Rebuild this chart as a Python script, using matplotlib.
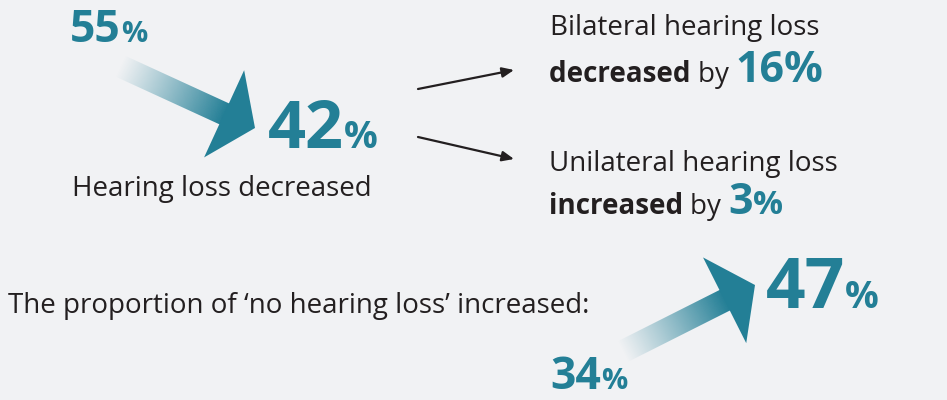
import numpy as np
import matplotlib
matplotlib.use('Agg')
import matplotlib.pyplot as plt
from matplotlib.patches import Polygon

plt.rcParams['font.family'] = ['Open Sans', 'DejaVu Sans']

# data: share of children (%)
hl_before, hl_after = 55, 42          # hearing loss
nohl_before, nohl_after = 34, 47      # no hearing loss
bilateral_change = 16                 # decreased by
unilateral_change = 3                 # increased by

bg, teal, ink = '#F1F2F4', '#237F96', '#231F20'

fig = plt.figure(figsize=(9.47, 4.0), dpi=100, facecolor=bg)
ax = fig.add_axes([0, 0, 1, 1])
ax.set_facecolor(bg)
ax.set_xlim(0, 947); ax.set_ylim(400, 0); ax.axis('off')
r = fig.canvas.get_renderer()


def line(x, y, parts):
    # parts: (text, size, weight, color), all on one baseline
    for s, size, weight, color in parts:
        t = ax.text(x, y, s, fontsize=size, fontweight=weight, color=color, va='baseline', ha='left')
        bb = t.get_window_extent(renderer=r)
        x = ax.transData.inverted().transform((bb.x1, bb.y0))[0]


def fade_arrow(tail, tip, shaft_w=23, head_len=34, head_w=96):
    tail, tip = np.array(tail, float), np.array(tip, float)
    d = tip - tail; L = np.hypot(*d); u = d / L; n = np.array([-u[1], u[0]])
    base = tip - u * head_len
    end = base + u * 6
    shaft = np.array([tail + n * shaft_w / 2, end + n * shaft_w / 2, end - n * shaft_w / 2, tail - n * shaft_w / 2])
    x0, y0 = shaft.min(0) - 2; x1, y1 = shaft.max(0) + 2
    xs, ys = np.meshgrid(np.linspace(x0, x1, 300), np.linspace(y0, y1, 300))
    proj = ((xs - tail[0]) * u[0] + (ys - tail[1]) * u[1]) / (L - head_len)
    img = np.zeros(xs.shape + (4,))
    img[..., :3] = matplotlib.colors.to_rgb(teal)
    img[..., 3] = np.clip(proj, 0, 1) ** 1.1
    im = ax.imshow(img, extent=(x0, x1, y1, y0), origin='upper', aspect='auto', interpolation='bilinear', zorder=2)
    clip = Polygon(shaft, closed=True, transform=ax.transData)
    im.set_clip_path(clip)
    head = Polygon([base + n * head_w / 2, tip, base - n * head_w / 2], closed=True, color=teal, lw=0, zorder=3)
    ax.add_patch(head)


# hearing loss: down arrow
fade_arrow((120, 66), (255, 128))
line(70, 42, [(f'{hl_before}', 32, 'bold', teal), ('%', 21, 'bold', teal)])
line(268, 148, [(f'{hl_after}', 48, 'bold', teal), ('%', 27, 'bold', teal)])
line(72, 196, [('Hearing loss decreased', 20, 'normal', ink)])

# thin black arrows to the breakdown
for a, b in [((418, 89), (514, 70)), ((418, 137), (514, 159))]:
    ax.annotate('', xy=b, xytext=a,
                arrowprops=dict(arrowstyle='-|>,head_length=0.7,head_width=0.3', color=ink, lw=1.6,
                                shrinkA=0, shrinkB=0))

line(550, 35, [('Bilateral hearing loss', 20, 'normal', ink)])
line(549, 82, [('decreased ', 20, 'bold', ink), ('by ', 20, 'normal', ink),
               (f'{bilateral_change}%', 31, 'bold', teal)])
line(549, 171, [('Unilateral hearing loss', 20, 'normal', ink)])
line(549, 214, [('increased ', 20, 'bold', ink), ('by ', 20, 'normal', ink),
                (f'{unilateral_change}', 31, 'bold', teal), ('%', 24, 'bold', teal)])

# no hearing loss: up arrow
line(8, 313, [('The proportion of \u2018no hearing loss\u2019 increased:', 20, 'normal', ink)])
fade_arrow((622, 352), (755, 285))
line(550, 389, [(f'{nohl_before}', 32, 'bold', teal), ('%', 21, 'bold', teal)])
line(766, 308, [(f'{nohl_after}', 50, 'bold', teal), ('%', 27, 'bold', teal)])

fig.savefig('out.png', dpi=100, facecolor=bg)
